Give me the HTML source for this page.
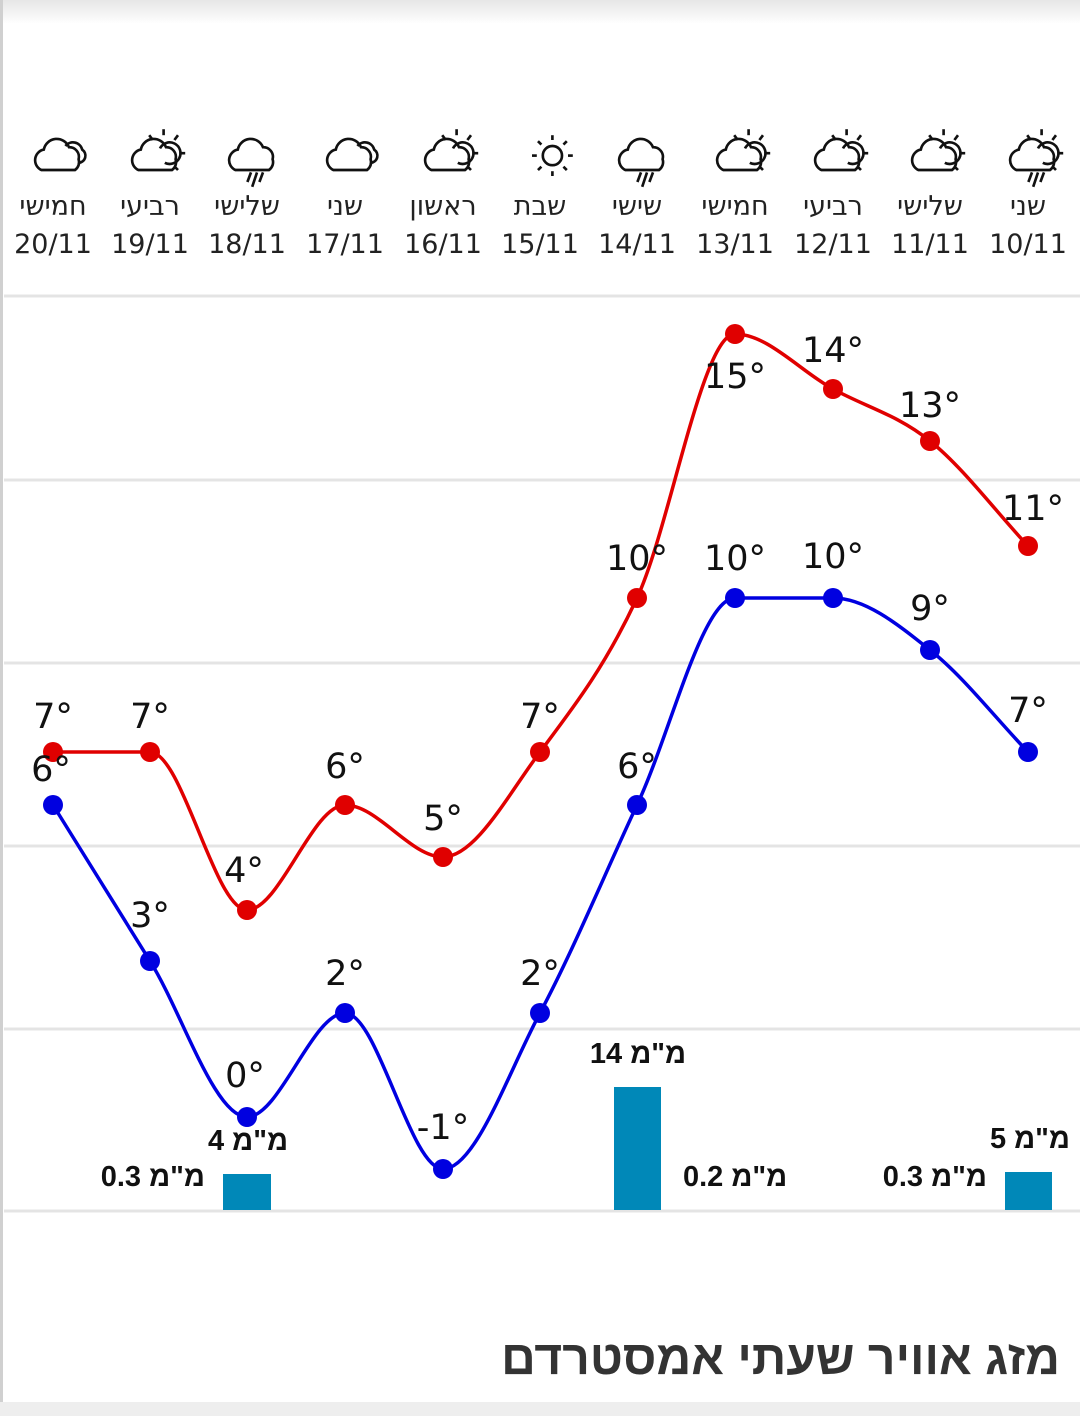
<!DOCTYPE html>
<html><head><meta charset="utf-8"><style>
body{margin:0;width:1080px;height:1416px;background:#fff;overflow:hidden;font-family:"DejaVu Sans","Liberation Sans",sans-serif}
</style></head><body>
<svg id="s" width="1080" height="1416" xmlns="http://www.w3.org/2000/svg" style="position:absolute;left:0;top:0">
<defs><linearGradient id="g" x1="0" y1="0" x2="0" y2="1"><stop offset="0" stop-color="#e6e6e6"/><stop offset="1" stop-color="#fff"/></linearGradient></defs>
<rect x="0" y="0" width="1080" height="24" fill="url(#g)"/>
<rect x="0" y="0" width="3" height="1416" fill="#d0d0d0"/>
<rect x="0" y="1402" width="1080" height="14" fill="#eeeeee"/>
<g stroke="#e4e4e4" stroke-width="3">
<line x1="4" x2="1080" y1="296" y2="296"/><line x1="4" x2="1080" y1="480" y2="480"/><line x1="4" x2="1080" y1="663" y2="663"/><line x1="4" x2="1080" y1="846" y2="846"/><line x1="4" x2="1080" y1="1029" y2="1029"/><line x1="4" x2="1080" y1="1211" y2="1211"/>
</g>
<g fill="#0088b8"><rect x="223" y="1174" width="48" height="36"/><rect x="614" y="1087" width="47" height="123"/><rect x="1005" y="1172" width="47" height="38"/></g>
<g id="lines"></g>
<g font-size="35" fill="#111" text-anchor="middle" id="labels" font-family="DejaVu Sans,sans-serif"></g>
<g font-family="Liberation Sans Narrow,Liberation Sans,sans-serif" font-weight="bold" font-size="29" fill="#111">
<text x="248" y="1150" text-anchor="middle">4 מ"מ</text>
<text x="205" y="1186" text-anchor="end">0.3 מ"מ</text>
<text x="638" y="1063" text-anchor="middle">14 מ"מ</text>
<text x="683" y="1186">0.2 מ"מ</text>
<text x="987" y="1186" text-anchor="end">0.3 מ"מ</text>
<text x="1070" y="1148" text-anchor="end">5 מ"מ</text>
</g>
<text x="1060" y="1374" text-anchor="end" font-family="Liberation Sans Narrow,Liberation Sans,sans-serif" font-weight="bold" font-size="48" fill="#333">מזג אוויר שעתי אמסטרדם</text>
<g id="hdr" font-size="27" fill="#222" text-anchor="middle" font-family="DejaVu Sans,sans-serif"></g>
</svg>
<script>
var X=[53,150,247,345,443,540,637,735,833,930,1028];
var R=[752,752,910,805,857,752,598,334,389,441,546],B=[805,961,1117,1013,1169,1013,805,598,598,650,752];
var RT=["7°","7°","4°","6°","5°","7°","10°","15°","14°","13°","11°"],BT=["6°","3°","0°","2°","-1°","2°","6°","10°","10°","9°","7°"];
function path(Y){var d="M"+X[0]+","+Y[0];for(var i=0;i<X.length-1;i++){var m0=i>0?(Y[i+1]-Y[i-1])/2:(Y[1]-Y[0]);var m1=i<X.length-2?(Y[i+2]-Y[i])/2:(Y[i+1]-Y[i]);
if((Y[i]-Y[i-1||0])*(Y[i+1]-Y[i])<=0&&i>0)m0=0;if(i<X.length-2&&(Y[i+1]-Y[i])*(Y[i+2]-Y[i+1])<=0)m1=0;var dx=(X[i+1]-X[i])/3;
d+=" C"+(X[i]+dx)+","+(Y[i]+m0/3)+" "+(X[i+1]-dx)+","+(Y[i+1]-m1/3)+" "+X[i+1]+","+Y[i+1];}return d;}
var ns="http://www.w3.org/2000/svg",L=document.getElementById("lines"),T=document.getElementById("labels");
function el(p,n,a,t){var e=document.createElementNS(ns,n);for(var k in a)e.setAttribute(k,a[k]);if(t)e.textContent=t;p.appendChild(e);return e;}
[[R,"#e00000"],[B,"#0000e0"]].forEach(function(s){el(L,"path",{d:path(s[0]),fill:"none",stroke:s[1],"stroke-width":3.5});s[0].forEach(function(y,i){el(L,"circle",{cx:X[i],cy:y,r:10,fill:s[1]});});});
var rOff=[-24,-24,-28,-27,-27,-24,-28,54,-27,-24,-26],bOff=[-24,-34,-30,-28,-30,-28,-27,-28,-30,-30,-30];
var rdx=[0,0,-3,0,0,0,0,0,0,0,5],bdx=[-2,0,-2,0,0,0,0,0,0,0,0];
R.forEach(function(y,i){el(T,"text",{x:X[i]+rdx[i],y:y+rOff[i]},RT[i]);});
B.forEach(function(y,i){var e=el(T,"text",{x:X[i]+bdx[i],y:y+bOff[i],direction:"ltr"},BT[i]);});
var days=["חמישי","רביעי","שלישי","שני","ראשון","שבת","שישי","חמישי","רביעי","שלישי","שני"];
var dates=["20/11","19/11","18/11","17/11","16/11","15/11","14/11","13/11","12/11","11/11","10/11"];
var icons=["c","ps","r","c","ps","s","r","ps","ps","ps","pr"];
var H=document.getElementById("hdr");
var cloud="M-18,10 a9,9 0 0 1 2,-17 a11,11 0 0 1 21,-2 a8,8 0 0 1 8,10 a8,8 0 0 1 -3,9 z";
X.forEach(function(x,i){el(H,"text",{x:x,y:215},days[i]);el(H,"text",{x:x,y:253},dates[i]);
var g=el(H,"g",{transform:"translate("+(x+10)+",158) scale(1.2)",fill:"none",stroke:"#111","stroke-width":2.2});var t=icons[i];
if(t=="s"){el(g,"circle",{cx:2,cy:-2,r:8});for(var a=0;a<8;a++){var an=a*Math.PI/4;el(g,"line",{x1:2+13*Math.cos(an),y1:-2+13*Math.sin(an),x2:2+17*Math.cos(an),y2:-2+17*Math.sin(an)});}}
else{if(t=="ps"||t=="pr"){el(g,"path",{d:"M0,-8 a9,9 0 1 1 4,12"});el(g,"line",{x1:3,y1:-24,x2:3,y2:-19});el(g,"line",{x1:15,y1:-19,x2:12,y2:-15});el(g,"line",{x1:21,y1:-4,x2:16,y2:-4});el(g,"line",{x1:15,y1:10,x2:12,y2:7});el(g,"line",{x1:-9,y1:-19,x2:-6,y2:-15});}
if(t=="c"){el(g,"path",{d:"M2,-10 a8,8 0 0 1 14,3 a6,6 0 0 1 -3,11"});}
el(g,"path",{d:cloud});
if(t=="r"||t=="pr"){el(g,"line",{x1:-5,y1:12,x2:-8,y2:20});el(g,"line",{x1:0,y1:12,x2:-4,y2:24});el(g,"line",{x1:5,y1:12,x2:2,y2:20});}}
});
</script>
</body></html>
